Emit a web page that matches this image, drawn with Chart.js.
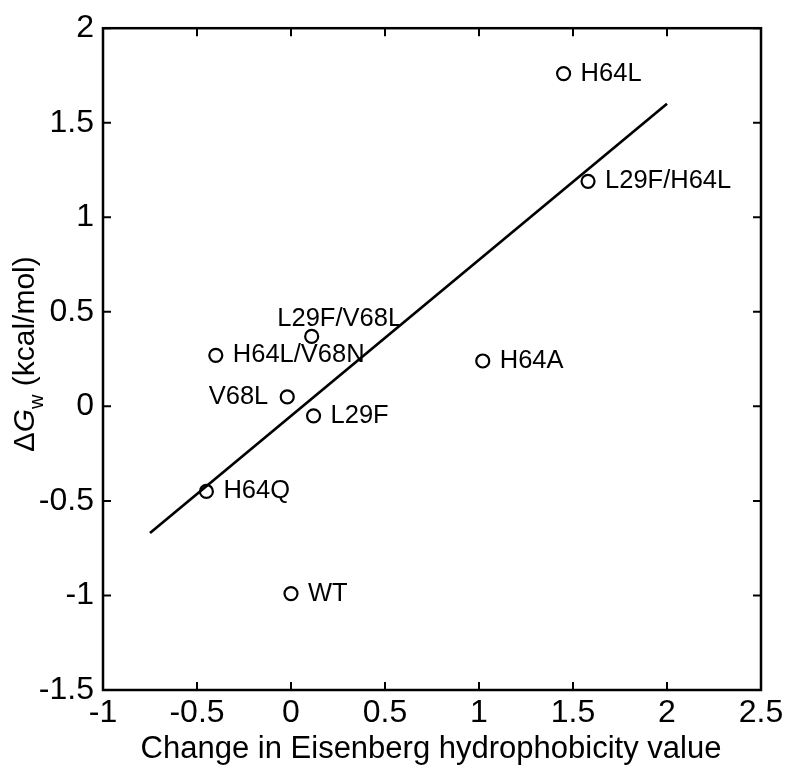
<!DOCTYPE html>
<html>
<head>
<meta charset="utf-8">
<script src="https://cdn.jsdelivr.net/npm/chart.js@4.4.1/dist/chart.umd.min.js"></script>
<style>
  html, body { margin: 0; padding: 0; background: #fff; }
  canvas { display: block; }
</style>
</head>
<body>
<canvas id="chart" width="792" height="774"></canvas>
<script>
// mutants
const mutants = ['H64L', 'L29F/H64L', 'H64A', 'L29F/V68L', 'H64L/V68N', 'V68L', 'L29F', 'H64Q', 'WT'];
const hydrophobicity = [1.45, 1.58, 1.02, 0.11, -0.40, -0.02, 0.12, -0.45, 0.00];
const deltaGw = [1.76, 1.19, 0.24, 0.37, 0.27, 0.05, -0.05, -0.45, -0.99];

// fitted line end points
const fitX = [-0.75, 2.0];
const fitY = [-0.67, 1.60];

// axis ticks
const xTicks = [-1, -0.5, 0, 0.5, 1, 1.5, 2, 2.5];
const yTicks = [-1.5, -1, -0.5, 0, 0.5, 1, 1.5, 2];

// where each label sits next to its point
const labelSide = ['right', 'right', 'right', 'above', 'right', 'left', 'right', 'right', 'right'];

const FONT = '"Liberation Sans", Arial, Helvetica, sans-serif';

// box around the plot with inward ticks (MATLAB style)
const boxPlugin = {
    id: 'box',
    afterDraw(chart) {
        const { ctx, chartArea: a, scales } = chart;
        const tl = 8;
        ctx.save();
        ctx.strokeStyle = '#000';
        ctx.lineWidth = 2.5;
        ctx.strokeRect(a.left, a.top, a.right - a.left, a.bottom - a.top);
        ctx.lineWidth = 2;
        ctx.beginPath();
        for (const v of xTicks) {
            const px = scales.x.getPixelForValue(v);
            ctx.moveTo(px, a.bottom); ctx.lineTo(px, a.bottom - tl);
            ctx.moveTo(px, a.top); ctx.lineTo(px, a.top + tl);
        }
        for (const v of yTicks) {
            const py = scales.y.getPixelForValue(v);
            ctx.moveTo(a.left, py); ctx.lineTo(a.left + tl, py);
            ctx.moveTo(a.right, py); ctx.lineTo(a.right - tl, py);
        }
        ctx.stroke();
        ctx.restore();
    }
};

// point labels
const labelPlugin = {
    id: 'pointLabels',
    afterDatasetsDraw(chart) {
        const { ctx, scales } = chart;
        ctx.save();
        ctx.fillStyle = '#000';
        ctx.font = '25.5px ' + FONT;
        ctx.textBaseline = 'middle';
        mutants.forEach((name, i) => {
            const px = scales.x.getPixelForValue(hydrophobicity[i]);
            const py = scales.y.getPixelForValue(deltaGw[i]);
            const side = labelSide[i];
            if (side === 'left') {
                ctx.textAlign = 'right';
                ctx.fillText(name, px - 19, py);
            } else if (side === 'above') {
                ctx.textAlign = 'center';
                ctx.fillText(name, px + 28, py - 17);
            } else {
                ctx.textAlign = 'left';
                ctx.fillText(name, px + 17, py);
            }
        });
        ctx.restore();
    }
};

// axis titles (y title needs italic G and subscript w)
const titlePlugin = {
    id: 'axisTitles',
    afterDraw(chart) {
        const { ctx, chartArea: a } = chart;
        ctx.save();
        ctx.fillStyle = '#000';
        ctx.textBaseline = 'alphabetic';
        ctx.textAlign = 'center';
        ctx.font = '31px ' + FONT;
        ctx.fillText('Change in Eisenberg hydrophobicity value', 431, 758);

        const parts = [
            { t: '\u0394', f: '29px ' + FONT, dy: 0 },
            { t: 'G', f: 'italic 30px ' + FONT, dy: 0 },
            { t: 'w', f: '20px ' + FONT, dy: 9 },
            { t: ' (kcal/mol)', f: '30px ' + FONT, dy: 0 }
        ];
        let total = 0;
        for (const p of parts) { ctx.font = p.f; p.w = ctx.measureText(p.t).width; total += p.w; }
        ctx.translate(34, 354);
        ctx.rotate(-Math.PI / 2);
        ctx.textAlign = 'left';
        let x = -total / 2;
        for (const p of parts) {
            ctx.font = p.f;
            ctx.fillText(p.t, x, p.dy);
            x += p.w;
        }
        ctx.restore();
    }
};

new Chart(document.getElementById('chart'), {
    type: 'scatter',
    data: {
        datasets: [
            {
                label: 'mutants',
                data: hydrophobicity.map((x, i) => ({ x, y: deltaGw[i] })),
                pointStyle: 'circle',
                pointRadius: 6.5,
                pointBorderWidth: 2.2,
                borderColor: '#000',
                backgroundColor: 'rgba(0,0,0,0)',
                pointBackgroundColor: 'rgba(0,0,0,0)'
            },
            {
                type: 'line',
                label: 'fit',
                data: fitX.map((x, i) => ({ x, y: fitY[i] })),
                borderColor: '#000',
                borderWidth: 2.7,
                pointRadius: 0,
                fill: false
            }
        ]
    },
    options: {
        responsive: false,
        devicePixelRatio: 1,
        animation: false,
        layout: { padding: { top: 19, right: 31, left: 0, bottom: 0 } },
        plugins: {
            legend: { display: false },
            tooltip: { enabled: false }
        },
        scales: {
            x: {
                type: 'linear',
                min: -1,
                max: 2.5,
                afterFit: (s) => { s.height = 84; },
                afterBuildTicks: (s) => { s.ticks = xTicks.map(v => ({ value: v })); },
                grid: { display: false, drawTicks: false },
                border: { display: false },
                ticks: {
                    color: '#000',
                    padding: 4,
                    maxRotation: 0,
                    font: { family: FONT, size: 32 },
                    callback: (v) => String(v)
                }
            },
            y: {
                type: 'linear',
                min: -1.5,
                max: 2,
                afterFit: (s) => { s.width = 103; },
                afterBuildTicks: (s) => { s.ticks = yTicks.map(v => ({ value: v })); },
                grid: { display: false, drawTicks: false },
                border: { display: false },
                ticks: {
                    color: '#000',
                    padding: 9,
                    font: { family: FONT, size: 32 },
                    callback: (v) => String(v)
                }
            }
        }
    },
    plugins: [boxPlugin, labelPlugin, titlePlugin]
});
</script>
</body>
</html>
